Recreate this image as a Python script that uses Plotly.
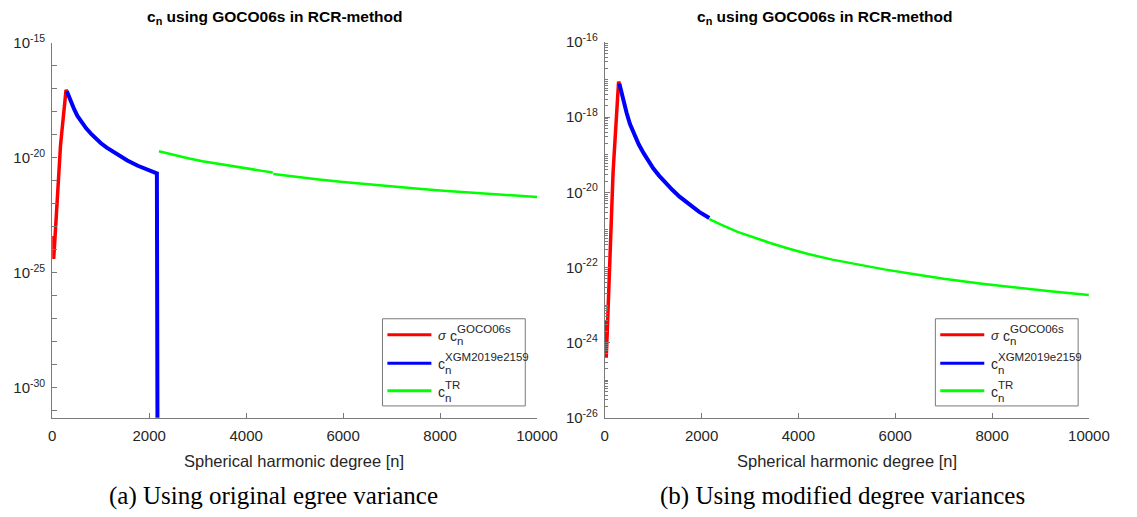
import numpy as np
import plotly.graph_objects as go

# ---- data (degree n, log10 of c_n) ----
# sigma c_n from GOCO06s (same in both panels)
red_n = [2, 8, 30, 50, 70, 95, 120, 145, 170, 195, 225, 255, 285, 300]
red_log = [-23.4, -23.7, -24.4, -23.75, -23.0, -22.05, -21.05, -20.15, -19.5, -18.95, -18.3, -17.65, -17.05, -17.1]

# c_n from XGM2019e2159 (same in both panels)
blue_n = [300, 350, 400, 450, 520, 600, 700, 808, 900, 1000, 1125, 1250, 1394, 1550, 1766, 1950, 2159]
blue_log = [-17.1, -17.4, -17.65, -17.88, -18.18, -18.45, -18.72, -18.97, -19.17, -19.36, -19.56,
            -19.74, -19.93, -20.12, -20.35, -20.52, -20.68]
# panel (a): the model values collapse right after its max degree
blue_tail_n = [2180]
blue_tail_log = [-40.0]

# c_n^TR, original degree variance (panel a), two pieces
green_a1_n = [2200, 2500, 2800, 3100, 3400, 3700, 4000, 4300, 4550]
green_a1_log = [-19.72, -19.88, -20.02, -20.15, -20.26, -20.37, -20.47, -20.56, -20.64]
green_a2_n = [4560, 5000, 5500, 6000, 6500, 7000, 7500, 8000, 8500, 9000, 9500, 10000]
green_a2_log = [-20.71, -20.83, -20.95, -21.06, -21.16, -21.26, -21.34, -21.42, -21.50, -21.57, -21.64, -21.71]

# c_n^TR, modified degree variances (panel b)
green_b_n = [2159, 2400, 2742, 3000, 3400, 3752, 4200, 4700, 5200, 5772, 6400, 7000, 7792, 8500, 9200, 10000]
green_b_log = [-20.71, -20.86, -21.05, -21.17, -21.34, -21.48, -21.64, -21.79, -21.92, -22.05, -22.18,
               -22.30, -22.43, -22.54, -22.63, -22.73]

x_ticks = [0, 2000, 4000, 6000, 8000, 10000]
ya_ticks = [-15, -20, -25, -30]
yb_ticks = [-16, -18, -20, -22, -24, -26]

RED, BLUE, GREEN = "#ff0000", "#0000ff", "#00ff00"
W, H = 1137, 517
SANS = "Liberation Sans, Arial, Helvetica, sans-serif"
SERIF = "Liberation Serif, DejaVu Serif, serif"
AX_COL = "#7a7a7a"
TXT_COL = "#262626"


def px(x):
    return x / W


def py(y):
    return 1 - y / H


def pw(v):
    return [10.0 ** e for e in v]


fig = go.Figure()

# panel (a)
fig.add_trace(go.Scatter(x=red_n, y=pw(red_log), mode="lines", line=dict(color=RED, width=3.5),
                         xaxis="x", yaxis="y", showlegend=False))
fig.add_trace(go.Scatter(x=blue_n + blue_tail_n, y=pw(blue_log + blue_tail_log), mode="lines",
                         line=dict(color=BLUE, width=4), xaxis="x", yaxis="y", showlegend=False))
fig.add_trace(go.Scatter(x=green_a1_n, y=pw(green_a1_log), mode="lines", line=dict(color=GREEN, width=2.5),
                         xaxis="x", yaxis="y", showlegend=False))
fig.add_trace(go.Scatter(x=green_a2_n, y=pw(green_a2_log), mode="lines", line=dict(color=GREEN, width=2.5),
                         xaxis="x", yaxis="y", showlegend=False))

# panel (b)
fig.add_trace(go.Scatter(x=green_b_n, y=pw(green_b_log), mode="lines", line=dict(color=GREEN, width=2.5),
                         xaxis="x2", yaxis="y2", showlegend=False))
fig.add_trace(go.Scatter(x=red_n, y=pw(red_log), mode="lines", line=dict(color=RED, width=3.5),
                         xaxis="x2", yaxis="y2", showlegend=False))
fig.add_trace(go.Scatter(x=blue_n, y=pw(blue_log), mode="lines", line=dict(color=BLUE, width=4),
                         xaxis="x2", yaxis="y2", showlegend=False))


def x_axis(domain, anchor):
    return dict(domain=domain, anchor=anchor, range=[0, 10000], tickvals=x_ticks,
                ticktext=[str(v) for v in x_ticks], ticks="inside", ticklen=5, tickcolor=AX_COL,
                showline=True, linecolor=AX_COL, linewidth=1, showgrid=False, zeroline=False,
                tickfont=dict(family=SANS, size=15, color=TXT_COL), ticklabelstandoff=4)


def y_axis(domain, anchor, rng, majors, minors, minor_len):
    return dict(domain=domain, anchor=anchor, type="log", range=rng,
                tickvals=[10.0 ** e for e in majors],
                ticktext=["10<sup>%d</sup>" % e for e in majors],
                ticks="inside", ticklen=5, tickcolor=AX_COL,
                minor=dict(tickvals=minors, ticks="inside", ticklen=minor_len, tickcolor=AX_COL),
                showline=True, linecolor=AX_COL, linewidth=1, showgrid=False, zeroline=False,
                tickfont=dict(family=SANS, size=15, color=TXT_COL), ticklabelstandoff=3)


minor_a = [10.0 ** e for e in range(-31, -14) if e not in ya_ticks]
minor_b = []
for e in range(-26, -16):
    for m in range(1, 10):
        if m == 1 and e in yb_ticks:
            continue
        minor_b.append(m * 10.0 ** e)

fig.update_layout(
    width=W, height=H, margin=dict(l=0, r=0, t=0, b=0),
    paper_bgcolor="white", plot_bgcolor="white",
    xaxis=x_axis([px(49.3), px(545)], "y"),
    yaxis=y_axis([py(422.3), py(33)], "x", [-31.31, -15], ya_ticks, minor_a, 5),
    xaxis2=x_axis([px(614.3), px(1109.3)], "y2"),
    yaxis2=y_axis([py(422.3), py(32.3)], "x2", [-26, -16], yb_ticks, minor_b, 3),
)

shapes = []
annotations = []


def text(x, y, s, size, family=SANS, color=TXT_COL, xanchor="center", yanchor="middle"):
    annotations.append(dict(x=px(x), y=py(y), xref="paper", yref="paper", text=s, showarrow=False,
                            xanchor=xanchor, yanchor=yanchor, font=dict(family=family, size=size, color=color)))


# titles, axis titles and captions
for cx, ax_cx, cap_cx, cap in [(277, 297, 276, "(a) Using original egree variance"),
                               (839, 862, 857, "(b) Using modified degree variances")]:
    text(cx, 7, "<b>c<sub>n</sub> using GOCO06s in RCR-method</b>", 15.5, color="black")
    text(ax_cx, 467, "Spherical harmonic degree [n]", 16.5)
    text(cap_cx, 503, cap, 25, family=SERIF, color="black")

# legends
for x0 in (387, 952.3):
    shapes.append(dict(type="rect", xref="paper", yref="paper", x0=px(x0), x1=px(x0 + 146),
                       y0=py(410), y1=py(319.5), line=dict(color=AX_COL, width=1), fillcolor="white"))
    rows = [(336, RED, "GOCO06s", True), (365.7, BLUE, "XGM2019e2159", False), (394.3, GREEN, "TR", False)]
    for ry, col, sup, has_sigma in rows:
        shapes.append(dict(type="line", xref="paper", yref="paper", x0=px(x0 + 5), x1=px(x0 + 50),
                           y0=py(ry), y1=py(ry), line=dict(color=col, width=3)))
        tx = x0 + 55
        if has_sigma:
            text(tx, ry + 1, "<i>σ</i>", 13, xanchor="left")
            tx += 12
        text(tx, ry + 1, "c", 14, xanchor="left")
        text(tx + 7, ry - 6, sup, 11.5, xanchor="left")
        text(tx + 7, ry + 7, "n", 11.5, xanchor="left")

fig.update_layout(shapes=shapes, annotations=annotations)

fig.write_html("out.html")
